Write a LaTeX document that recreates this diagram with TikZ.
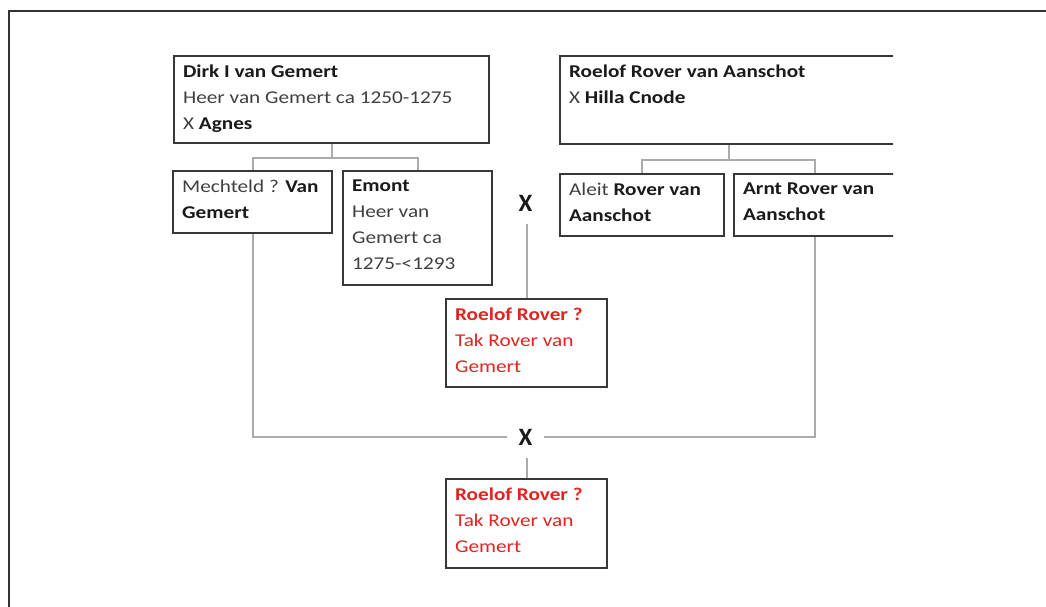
\documentclass[tikz,border=0pt]{standalone}
\usepackage{fontspec}
\setmainfont{Carlito}[FakeStretch=1.18]
\newfontfamily\xfont{Carlito}
\definecolor{boxline}{HTML}{383838}
\definecolor{conn}{HTML}{ABABAB}
\definecolor{txt}{HTML}{404040}
\definecolor{bld}{HTML}{1A1A1A}
\definecolor{redtxt}{HTML}{E2231F}
\definecolor{frame}{HTML}{333333}
\newcommand\boxtext[3]{\parbox[c][#2][t]{#1}{\raggedright #3}}
\newcommand\bn[1]{\textbf{\textcolor{bld}{#1}}}
\begin{document}
\begin{tikzpicture}[x=1pt,y=-1pt,
  person/.style={draw=boxline, line width=2.2pt, fill=white, anchor=north west, inner sep=9pt,
    font=\fontsize{18}{26}\selectfont, text=txt},
  redperson/.style={person, text=redtxt},
  link/.style={draw=conn, line width=1.8pt},
  xmark/.style={font=\xfont\fontsize{25}{25}\selectfont\bfseries, text=bld, inner xsep=11pt, inner ysep=13pt}]
\useasboundingbox (0,0) rectangle (1046,607);
\draw[line width=2pt, draw=frame] (9,607) -- (9,11) -- (1046,11);

% left family
\node[person] (dirk) at (173,55) {\boxtext{297pt}{69pt}{\mbox{\bn{Dirk I van Gemert}}\\\mbox{Heer van Gemert ca 1250-1275}\\\mbox{X \bn{Agnes}}}};
\node[person] (mech) at (172,170) {\boxtext{141pt}{44pt}{\mbox{Mechteld ? \bn{Van}}\\\mbox{\bn{Gemert}}}};
\node[person] (emont) at (342,170) {\boxtext{131pt}{96pt}{\mbox{\bn{Emont}}\\\mbox{Heer van}\\\mbox{Gemert ca}\\\mbox{1275-<1293}}};

% right family (clipped at the right)
\begin{scope}
\clip (0,0) rectangle (893,607);
\node[person] (roelof) at (559,55) {\boxtext{320pt}{70pt}{\mbox{\bn{Roelof Rover van Aanschot}}\\\mbox{X \bn{Hilla Cnode}}}};
\node[person] (aleit) at (559,173) {\boxtext{146pt}{44pt}{\mbox{Aleit \bn{Rover van}}\\\mbox{\bn{Aanschot}}}};
\node[person] (arnt) at (733,173) {\boxtext{144pt}{44pt}{\mbox{\bn{Arnt Rover van}}\\\mbox{\bn{Aanschot}}}};
\end{scope}

% children
\node[redperson] (red1) at (445,298) {\boxtext{143pt}{70pt}{\mbox{\textbf{Roelof Rover ?}}\\\mbox{Tak Rover van}\\\mbox{Gemert}}};
\node[redperson] (red2) at (445,478) {\boxtext{143pt}{71pt}{\mbox{\textbf{Roelof Rover ?}}\\\mbox{Tak Rover van}\\\mbox{Gemert}}};

\node[xmark] (xup) at (525.5,203) {X};
\node[xmark] (xlow) at (525.5,437) {X};

% connectors
\draw[link] (dirk.south) -- ++(0,14) -| (mech.north);
\draw[link] (dirk.south) -- ++(0,14) -| (emont.north);
\draw[link] (roelof.south) -- ++(0,15) -| (aleit.north);
\draw[link] (roelof.south) -- ++(0,15) -| (arnt.north);
\draw[link] (red1.north) -- (red1.north |- xup.south);
\draw[link] (mech.south) |- (xlow.west);
\draw[link] (arnt.south) |- (xlow.east);
\draw[link] (red2.north) -- (red2.north |- xlow.south);
\end{tikzpicture}
\end{document}
